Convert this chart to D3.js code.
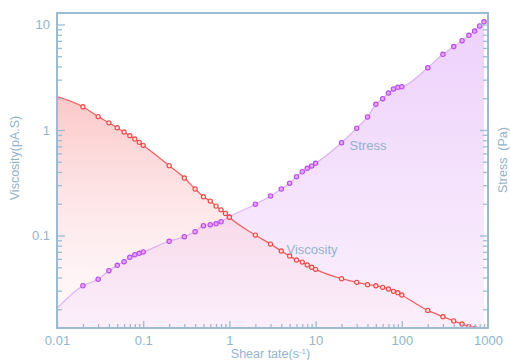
<!DOCTYPE html>
<head>
<meta charset="utf-8">
<script src="https://d3js.org/d3.v7.min.js"></script>
<style>
body { margin:0; background:#fff; }
svg text { font-family: "Liberation Sans", Arial, sans-serif; fill:#94b3cb; }
.axis path, .axis line { stroke:#9dbbd0; }
.axis path { stroke-width:2px; }
.axis line { stroke-width:1.3px; }
</style>
</head>
<body>
<script>
// shear rate (x) for each series
var viscRate = [0.01, 0.02, 0.03, 0.04, 0.05, 0.06, 0.07, 0.08, 0.09, 0.1,
  0.2, 0.3, 0.4, 0.5, 0.6, 0.7, 0.8, 0.9, 1,
  2, 3, 4, 5, 6, 7, 8, 9, 10,
  20, 30, 40, 50, 60, 70, 80, 90, 100,
  200, 300, 400, 500, 600, 700];
var viscosity = [2.07, 1.66, 1.34, 1.17, 1.05, 0.957, 0.883, 0.822, 0.764, 0.716,
  0.459, 0.351, 0.276, 0.233, 0.212, 0.19, 0.175, 0.162, 0.149,
  0.101, 0.083, 0.0713, 0.064, 0.0586, 0.056, 0.0525, 0.05, 0.0478,
  0.039, 0.036, 0.0342, 0.0334, 0.0323, 0.0311, 0.0296, 0.0287, 0.0273,
  0.0195, 0.017, 0.0155, 0.0145, 0.0137, 0.0132];

var stressRate = [0.01, 0.02, 0.03, 0.04, 0.05, 0.06, 0.07, 0.08, 0.09, 0.1,
  0.2, 0.3, 0.4, 0.5, 0.6, 0.7, 0.8, 1,
  2, 3, 4, 5, 6, 7, 8, 9, 10,
  20, 30, 40, 50, 60, 70, 80, 90, 100,
  200, 300, 400, 500, 600, 700, 800, 900];
var stress = [0.0204, 0.0334, 0.0385, 0.0464, 0.0521, 0.0565, 0.0621, 0.0658, 0.0678, 0.0698,
  0.0881, 0.0975, 0.1087, 0.124, 0.1265, 0.129, 0.135, 0.15,
  0.198, 0.237, 0.276, 0.313, 0.361, 0.402, 0.433, 0.456, 0.483,
  0.758, 1.04, 1.33, 1.75, 1.98, 2.24, 2.45, 2.54, 2.57,
  3.9, 5.22, 6.17, 7.03, 7.9, 8.67, 9.68, 10.6];

var xTicks = [0.01, 0.1, 1, 10, 100, 1000];
var yTicks = [0.1, 1, 10];

var margin = {top: 13, right: 22, bottom: 32, left: 57},
    width = 510 - margin.left - margin.right,
    height = 360 - margin.top - margin.bottom;

var x = d3.scaleLog().domain([0.01, 1000]).range([0, width]);
var y = d3.scaleLog().domain([0.01328, 12.85]).range([height, 0]);

// minor ticks 2..9 of every decade
function minors(lo, hi) {
  var out = [];
  for (var e = lo; e < hi; e++)
    for (var k = 2; k <= 9; k++) out.push(k * Math.pow(10, e));
  return out;
}
var xMinor = minors(-2, 3);
var yMinor = minors(-2, 1).filter(v => v > 0.01328 && v < 12.85);

var svg = d3.select("body").append("svg")
    .attr("width", 510).attr("height", 360)
  .append("g")
    .attr("transform", "translate(" + margin.left + "," + margin.top + ")");

var defs = svg.append("defs");
defs.append("clipPath").attr("id", "clip")
  .append("rect").attr("width", width).attr("height", height);

var gS = defs.append("linearGradient").attr("id", "gS")
  .attr("gradientUnits", "userSpaceOnUse").attr("x1", 0).attr("x2", 0).attr("y1", 0).attr("y2", height);
gS.append("stop").attr("offset", 0).attr("stop-color", "#edd0fb");
gS.append("stop").attr("offset", 1).attr("stop-color", "#fbf1fd");

var gV = defs.append("linearGradient").attr("id", "gV")
  .attr("gradientUnits", "userSpaceOnUse").attr("x1", 0).attr("x2", 0).attr("y1", 80).attr("y2", height);
gV.append("stop").attr("offset", 0).attr("stop-color", "#fbb4b4").attr("stop-opacity", 0.75);
gV.append("stop").attr("offset", 1).attr("stop-color", "#fde0ea").attr("stop-opacity", 0.15);

var visc = viscRate.map((r, i) => ({r: r, v: viscosity[i]}));
var str = stressRate.map((r, i) => ({r: r, v: stress[i]}));

var area = d3.area().x(d => x(d.r)).y0(height).y1(d => y(d.v)).curve(d3.curveMonotoneX);
var line = d3.line().x(d => x(d.r)).y(d => y(d.v)).curve(d3.curveMonotoneX);

var plot = svg.append("g").attr("clip-path", "url(#clip)");
plot.append("path").datum(str).attr("d", area).attr("fill", "url(#gS)");
plot.append("path").datum(visc).attr("d", area).attr("fill", "url(#gV)");

plot.append("path").datum(str).attr("d", line)
  .attr("fill", "none").attr("stroke", "#dcb2ef").attr("stroke-width", 1.2);
plot.selectAll(".ms").data(str.slice(1)).enter().append("circle")
  .attr("cx", d => x(d.r)).attr("cy", d => y(d.v)).attr("r", 2.2)
  .attr("fill", "#e3a6f7").attr("stroke", "#b94ce8").attr("stroke-width", 1.1);

plot.append("path").datum(visc).attr("d", line)
  .attr("fill", "none").attr("stroke", "#f06262").attr("stroke-width", 1.3);
plot.selectAll(".mv").data(visc.slice(1)).enter().append("circle")
  .attr("cx", d => x(d.r)).attr("cy", d => y(d.v)).attr("r", 2.1)
  .attr("fill", "#fde0e0").attr("stroke", "#e84848").attr("stroke-width", 1.1);

// frame
svg.append("rect").attr("width", width).attr("height", height)
  .attr("fill", "none").attr("stroke", "#9dbbd0").attr("stroke-width", 2);

// axes
svg.append("g").attr("class", "axis").attr("transform", "translate(0," + height + ")")
  .call(d3.axisBottom(x).tickValues(xMinor).tickSize(-4).tickSizeOuter(0).tickFormat(""));
svg.append("g").attr("class", "axis").attr("transform", "translate(0," + height + ")")
  .call(d3.axisBottom(x).tickValues(xTicks).tickSize(-7).tickSizeOuter(0).tickPadding(8)
    .tickFormat(d => String(d)))
  .selectAll("text").style("font-size", "13px");

svg.append("g").attr("class", "axis")
  .call(d3.axisLeft(y).tickValues(yMinor).tickSize(-5).tickSizeOuter(0).tickFormat(""));
svg.append("g").attr("class", "axis")
  .call(d3.axisLeft(y).tickValues(yTicks).tickSize(-8).tickSizeOuter(0).tickPadding(7)
    .tickFormat(d => String(d)))
  .selectAll("text").style("font-size", "13px");

svg.append("g").attr("class", "axis").attr("transform", "translate(" + width + ",0)")
  .call(d3.axisRight(y).tickValues(yMinor).tickSize(-5).tickSizeOuter(0).tickFormat(""));
svg.append("g").attr("class", "axis").attr("transform", "translate(" + width + ",0)")
  .call(d3.axisRight(y).tickValues(yTicks).tickSize(-8).tickSizeOuter(0).tickFormat(""));

svg.selectAll(".axis .domain").remove();

// titles
svg.append("text").attr("transform", "translate(-38," + 145 + ") rotate(-90)")
  .attr("text-anchor", "middle").style("font-size", "12.5px").text("Viscosity(pA.S)");
svg.append("text").attr("transform", "translate(" + (width + 19) + "," + 147 + ") rotate(-90)")
  .attr("text-anchor", "middle").style("font-size", "12.5px").attr("xml:space", "preserve")
  .text("Stress  (Pa)");
svg.append("text").attr("x", width / 2 - 2).attr("y", height + 30)
  .attr("text-anchor", "middle").style("font-size", "12.5px")
  .text("Shear tate(s").append("tspan").attr("dy", -4).style("font-size", "8px").text("-1")
  .select(function() { return this.parentNode; })
  .append("tspan").attr("dy", 4).text(")");

// series labels
svg.append("text").attr("x", x(20) + 8).attr("y", y(0.72) + 5)
  .style("font-size", "13px").text("Stress");
svg.append("text").attr("x", x(6) - 10).attr("y", y(0.075) + 5)
  .style("font-size", "13px").text("Viscosity");
</script>
</body>
